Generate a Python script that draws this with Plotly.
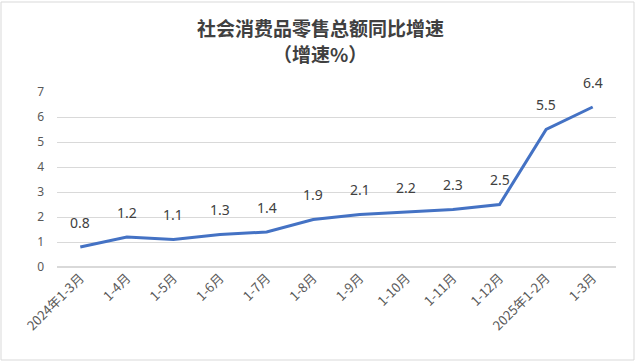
import plotly.graph_objects as go

categories = ["2024年1-3月", "1-4月", "1-5月", "1-6月", "1-7月", "1-8月", "1-9月",
              "1-10月", "1-11月", "1-12月", "2025年1-2月", "1-3月"]
values = [0.8, 1.2, 1.1, 1.3, 1.4, 1.9, 2.1, 2.2, 2.3, 2.5, 5.5, 6.4]
y_ticks = [0, 1, 2, 3, 4, 5, 6, 7]
title_lines = ["社会消费品零售总额同比增速", "（增速%）"]

W, H = 635, 362
ml, mr, mt, mb = 57, 19, 92, 95
pw, ph = W - ml - mr, H - mt - mb

def py(pix):
    return (mt + ph - pix) / ph

def px(pix):
    return (pix - ml) / pw

fig = go.Figure()
fig.add_trace(go.Scatter(
    x=categories, y=values, mode="lines",
    line=dict(color="#4472C4", width=3), hoverinfo="x+y", showlegend=False,
))

for c, v in zip(categories, values):
    fig.add_annotation(x=c, y=v, text=f"{v:.1f}", showarrow=False, yshift=25,
                       font=dict(family="Noto Sans, DejaVu Sans", size=14, color="#404040"))

for t, yc in zip(title_lines, [27, 53]):
    fig.add_annotation(xref="paper", yref="paper", x=px(320), y=py(yc),
                       xanchor="center", yanchor="middle", showarrow=False,
                       text=f"<b>{t}</b>",
                       font=dict(family="Noto Sans CJK SC", size=19, color="#404040"))

fig.add_shape(type="rect", xref="paper", yref="paper",
              x0=px(1), x1=px(634), y0=py(360), y1=py(2),
              line=dict(color="#d9d9d9", width=1), fillcolor="rgba(0,0,0,0)", layer="below")

fig.update_layout(
    width=W, height=H,
    margin=dict(l=ml, r=mr, t=mt, b=mb, autoexpand=False),
    paper_bgcolor="white", plot_bgcolor="white",
    xaxis=dict(type="category", range=[-0.5, len(categories) - 0.5], tickangle=-45,
               showgrid=False, showline=False, automargin=False,
               ticks="", tickfont=dict(family="Noto Sans CJK SC", size=13, color="#595959")),
    yaxis=dict(range=[0, 7], tickvals=y_ticks, showgrid=True, gridcolor="#d9d9d9",
               gridwidth=1, zeroline=True, zerolinecolor="#d9d9d9", showline=False,
               ticks="", ticklabelstandoff=12, automargin=False,
               tickfont=dict(family="Noto Sans, DejaVu Sans", size=12, color="#595959")),
)

fig.write_html("out.html", config={"displayModeBar": False},
               post_script="document.body.style.margin='0';")
